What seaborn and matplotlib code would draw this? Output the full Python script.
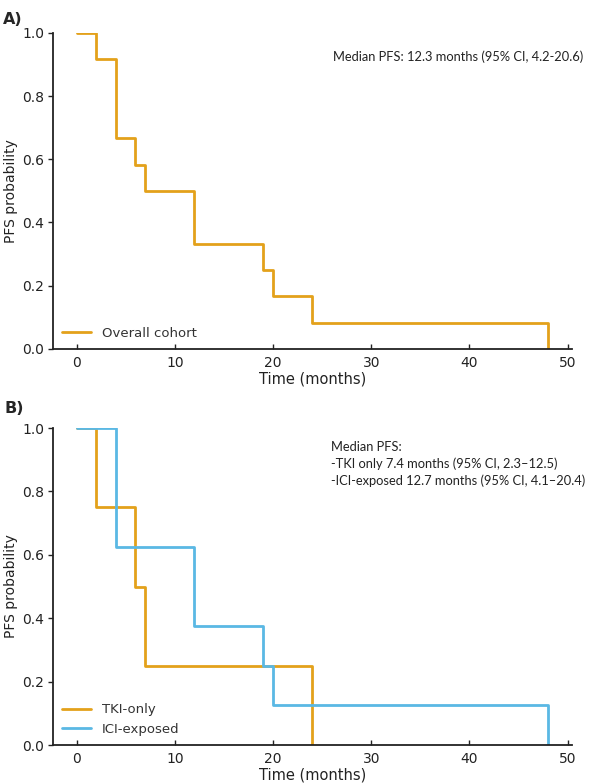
import seaborn as sns
import matplotlib.pyplot as plt
import pandas as pd
import numpy as np

# Kaplan-Meier step data (time in months, PFS probability)
overall_t = [0, 2, 4, 6, 7, 12, 19, 20, 24, 48]
overall_s = [1.0, 11/12, 8/12, 7/12, 6/12, 4/12, 3/12, 2/12, 1/12, 0.0]

tki_t = [0, 2, 6, 7, 24]
tki_s = [1.0, 0.75, 0.5, 0.25, 0.0]

ici_t = [0, 4, 12, 19, 20, 48]
ici_s = [1.0, 0.625, 0.375, 0.25, 0.125, 0.0]

x_ticks = [0, 10, 20, 30, 40, 50]
y_ticks = [0.0, 0.2, 0.4, 0.6, 0.8, 1.0]

note_a = "Median PFS: 12.3 months (95% CI, 4.2-20.6)"
note_b = ["Median PFS:",
          "-TKI only 7.4 months (95% CI, 2.3\u201312.5)",
          "-ICI-exposed 12.7 months (95% CI, 4.1\u201320.4)"]

orange = "#E3A11B"
blue = "#5AB8E4"

sns.set_style("ticks")
plt.rcParams['font.family'] = ['DejaVu Sans']

fig = plt.figure(figsize=(5.9, 7.84), dpi=100)
ax1 = fig.add_axes([0.0898, 0.555, 0.879, 0.403])
ax2 = fig.add_axes([0.0898, 0.0497, 0.879, 0.4043])


def style(ax):
    ax.set_xlim(-2.4, 50.4)
    ax.set_ylim(0, 1.0)
    ax.set_xticks(x_ticks)
    ax.set_yticks(y_ticks)
    ax.set_yticklabels([f"{v:.1f}" for v in y_ticks])
    for s in ["top", "right"]:
        ax.spines[s].set_visible(False)
    for s in ["left", "bottom"]:
        ax.spines[s].set_linewidth(1.3)
        ax.spines[s].set_color("#222222")
    ax.tick_params(axis="x", direction="in", length=3.5, width=1, labelsize=10,
                   colors="#222222", pad=5)
    ax.tick_params(axis="y", direction="out", length=3.5, width=1, labelsize=10,
                   colors="#222222", pad=3)
    ax.set_xlabel("Time (months)", fontsize=10.5, color="#222222", labelpad=1)
    ax.set_ylabel("PFS probability", fontsize=10, color="#222222", labelpad=3)
    leg = ax.legend(loc="lower left", frameon=False, fontsize=9.5,
                    handlelength=2.2, borderaxespad=0.3, labelspacing=0.5)
    for t in leg.get_texts():
        t.set_color("#333333")


df_a = pd.DataFrame({"time": overall_t, "surv": overall_s})
sns.lineplot(data=df_a, x="time", y="surv", ax=ax1, color=orange, lw=2,
             drawstyle="steps-post", estimator=None, sort=False,
             label="Overall cohort")
style(ax1)
ax1.text(0.54, 0.924, note_a, transform=ax1.transAxes, fontsize=9.3,
         family="Lato", color="#222222", va="center")

df_tki = pd.DataFrame({"time": tki_t, "surv": tki_s})
df_ici = pd.DataFrame({"time": ici_t, "surv": ici_s})
sns.lineplot(data=df_tki, x="time", y="surv", ax=ax2, color=orange, lw=2,
             drawstyle="steps-post", estimator=None, sort=False, label="TKI-only")
sns.lineplot(data=df_ici, x="time", y="surv", ax=ax2, color=blue, lw=2,
             drawstyle="steps-post", estimator=None, sort=False, label="ICI-exposed")
style(ax2)
ax2.text(0.537, 0.958, "\n".join(note_b), transform=ax2.transAxes, fontsize=9.3,
         family="Lato", color="#222222", va="top", linespacing=1.4)

fig.text(0.005, 0.985, "A)", fontsize=11.5, fontweight="bold", va="top")
fig.text(0.008, 0.489, "B)", fontsize=11.5, fontweight="bold", va="top")

fig.savefig("out.png", dpi=100)
